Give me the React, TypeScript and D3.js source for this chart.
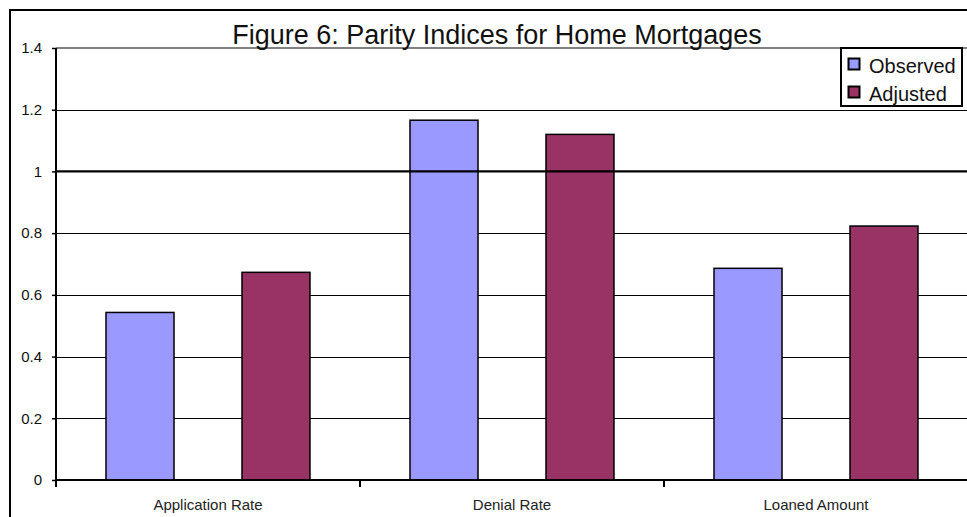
import { useEffect, useRef } from "react";
import * as d3 from "d3";

const categories = ["Application Rate", "Denial Rate", "Loaned Amount"];
const seriesNames = ["Observed", "Adjusted"];
const observed = [0.543, 1.166, 0.686];
const adjusted = [0.673, 1.12, 0.823];
const yTicks = [0, 0.2, 0.4, 0.6, 0.8, 1, 1.2, 1.4];
const colors = ["#9999FF", "#993366"];

export default function App() {
  const svgRef = useRef<SVGSVGElement | null>(null);

  useEffect(() => {
    const svg = d3.select(svgRef.current);
    const width = 967;
    const height = 517;
    const margin = { top: 48, right: -1, bottom: 37, left: 56 };

    svg.selectAll("*").remove();
    svg.attr("width", width).attr("height", height);

    const fontFamily = "Arial, 'Liberation Sans', sans-serif";

    // outer chart border (runs off the right and bottom edges)
    svg.append("rect")
      .attr("x", 10)
      .attr("y", 10)
      .attr("width", 990)
      .attr("height", 540)
      .attr("fill", "white")
      .attr("stroke", "black")
      .attr("stroke-width", 2);

    const x0 = d3.scaleBand()
      .domain(categories)
      .range([margin.left, width - margin.right]);

    const x1 = d3.scaleBand()
      .domain(seriesNames)
      .range([x0.bandwidth() * 0.1645, x0.bandwidth() * (1 - 0.1645)])
      .paddingInner(0.5);

    const y = d3.scaleLinear()
      .domain([0, 1.4])
      .range([height - margin.bottom, margin.top]);

    // gridlines
    svg.append("g")
      .selectAll("line")
      .data(yTicks.filter((t) => t > 0 && t < 1.4 && t !== 1))
      .enter()
      .append("line")
      .attr("x1", margin.left)
      .attr("x2", width)
      .attr("y1", (d) => Math.round(y(d)) + 0.5)
      .attr("y2", (d) => Math.round(y(d)) + 0.5)
      .attr("stroke", "black")
      .attr("stroke-width", 1);

    // plot area top border
    svg.append("line")
      .attr("x1", margin.left)
      .attr("x2", width)
      .attr("y1", y(1.4))
      .attr("y2", y(1.4))
      .attr("stroke", "#808080")
      .attr("stroke-width", 2);

    const rows = categories.map((c, i) => ({ category: c, values: [observed[i], adjusted[i]] }));

    const groups = svg.append("g")
      .selectAll("g")
      .data(rows)
      .enter()
      .append("g")
      .attr("transform", (d) => `translate(${x0(d.category)},0)`);

    groups.selectAll("rect")
      .data((d) => d.values.map((v, j) => ({ name: seriesNames[j], value: v, idx: j })))
      .enter()
      .append("rect")
      .attr("x", (d) => x1(d.name)!)
      .attr("y", (d) => y(d.value))
      .attr("width", x1.bandwidth())
      .attr("height", (d) => y(0) - y(d.value))
      .attr("fill", (d) => colors[d.idx])
      .attr("stroke", "black")
      .attr("stroke-width", 1.5);

    // reference line at 1
    svg.append("line")
      .attr("x1", margin.left)
      .attr("x2", width)
      .attr("y1", y(1))
      .attr("y2", y(1))
      .attr("stroke", "black")
      .attr("stroke-width", 2.2);

    // y axis
    const yAxis = svg.append("g")
      .attr("transform", `translate(${margin.left},0)`)
      .call(d3.axisLeft(y).tickValues(yTicks).tickSize(4).tickPadding(10).tickFormat((d) => d3.format("")(+d)));
    yAxis.select(".domain").remove();
    yAxis.selectAll("line").attr("stroke", "black").attr("stroke-width", 1.5);
    yAxis.selectAll("text")
      .style("font-family", fontFamily)
      .style("font-size", "15px")
      .attr("fill", "#111");
    svg.append("line")
      .attr("x1", margin.left)
      .attr("x2", margin.left)
      .attr("y1", y(1.4))
      .attr("y2", y(0))
      .attr("stroke", "black")
      .attr("stroke-width", 2);

    // x axis
    svg.append("line")
      .attr("x1", margin.left)
      .attr("x2", width)
      .attr("y1", y(0))
      .attr("y2", y(0))
      .attr("stroke", "black")
      .attr("stroke-width", 2);
    svg.append("g")
      .selectAll("line")
      .data(categories)
      .enter()
      .append("line")
      .attr("x1", (d) => x0(d)!)
      .attr("x2", (d) => x0(d)!)
      .attr("y1", y(0))
      .attr("y2", y(0) + 7)
      .attr("stroke", "black")
      .attr("stroke-width", 2);
    svg.append("g")
      .selectAll("text")
      .data(categories)
      .enter()
      .append("text")
      .attr("x", (d) => x0(d)! + x0.bandwidth() / 2)
      .attr("y", y(0) + 30)
      .attr("text-anchor", "middle")
      .style("font-family", fontFamily)
      .style("font-size", "15px")
      .attr("fill", "#222")
      .text((d) => d);

    // title
    svg.append("text")
      .attr("x", 497)
      .attr("y", 44)
      .attr("text-anchor", "middle")
      .style("font-family", fontFamily)
      .style("font-size", "27px")
      .attr("fill", "#111")
      .text("Figure 6: Parity Indices for Home Mortgages");

    // legend
    const legend = svg.append("g").attr("transform", "translate(841,48)");
    legend.append("rect")
      .attr("width", 121)
      .attr("height", 58)
      .attr("fill", "white")
      .attr("stroke", "black")
      .attr("stroke-width", 2);
    seriesNames.forEach((name, i) => {
      const row = legend.append("g").attr("transform", `translate(0, ${i * 28})`);
      row.append("rect")
        .attr("x", 7.5)
        .attr("y", 10.5)
        .attr("width", 11)
        .attr("height", 11)
        .attr("fill", colors[i])
        .attr("stroke", "black")
        .attr("stroke-width", 2);
      row.append("text")
        .attr("x", 28)
        .attr("y", 25)
        .style("font-family", fontFamily)
        .style("font-size", "20px")
        .attr("fill", "#111")
        .text(name);
    });
  }, []);

  return (
    <svg
      ref={svgRef}
      style={{ position: "absolute", top: 0, left: 0, display: "block", background: "white" }}
    />
  );
}
